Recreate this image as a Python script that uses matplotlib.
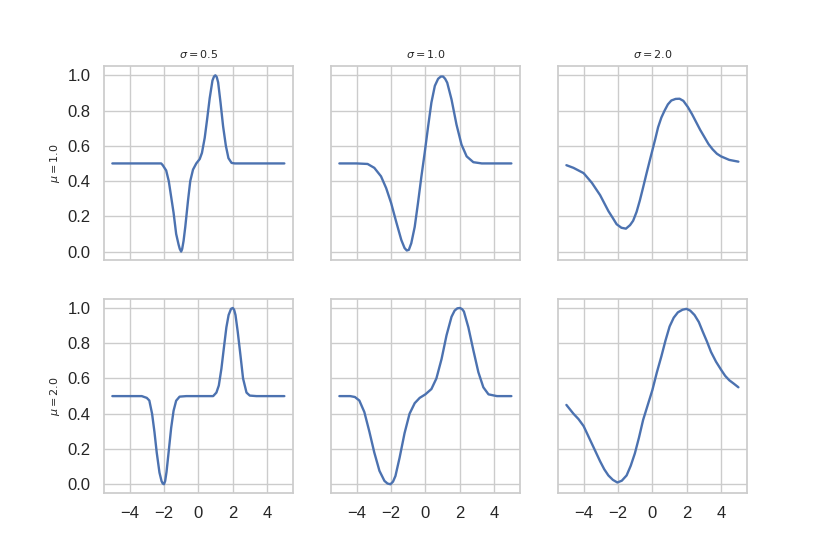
import matplotlib
matplotlib.use('Agg')
import matplotlib.pyplot as plt
import seaborn as sns

# values, one curve per (mu, sigma) panel
sigmas = [0.5, 1.0, 2.0]
mus = [1.0, 2.0]

x_m1_s05 = [-5.0, -3.0, -2.3, -2.16, -2.07, -1.87, -1.72, -1.58, -1.44, -1.29, -1.15, -1.08,
            -1.0, -0.94, -0.86, -0.76, -0.6, -0.47, -0.31, -0.12, 0.08, 0.21, 0.37, 0.51,
            0.66, 0.82, 0.91, 0.99, 1.07, 1.15, 1.29, 1.44, 1.6, 1.75, 1.93, 2.12, 3.0, 5.0]
y_m1_s05 = [0.5, 0.5, 0.5, 0.5, 0.49, 0.46, 0.40, 0.31, 0.22, 0.10, 0.04, 0.015,
            0.0, 0.015, 0.06, 0.14, 0.29, 0.40, 0.465, 0.5, 0.525, 0.56, 0.645, 0.75,
            0.87, 0.97, 0.993, 1.0, 0.99, 0.96, 0.845, 0.71, 0.6, 0.53, 0.503, 0.5, 0.5, 0.5]

x_m1_s10 = [-5.0, -4.0, -3.36, -2.97, -2.58, -2.28, -1.99, -1.7, -1.4, -1.21, -1.08, -0.96,
            -0.82, -0.62, -0.43, -0.23, -0.04, 0.16, 0.35, 0.55, 0.74, 0.9, 1.03, 1.15,
            1.27, 1.52, 1.81, 2.1, 2.4, 2.79, 3.28, 4.0, 5.0]
y_m1_s10 = [0.5, 0.5, 0.497, 0.475, 0.427, 0.36, 0.275, 0.17, 0.066, 0.02, 0.006, 0.01,
            0.047, 0.14, 0.275, 0.427, 0.56, 0.71, 0.845, 0.94, 0.98, 0.993, 0.993, 0.98,
            0.958, 0.863, 0.72, 0.607, 0.54, 0.507, 0.5, 0.5, 0.5]

x_m1_s20 = [-5.0, -4.59, -4.0, -3.52, -3.04, -2.56, -2.3, -2.08, -1.8, -1.54, -1.3, -1.12,
            -0.92, -0.73, -0.55, -0.35, -0.17, 0.0, 0.17, 0.33, 0.52, 0.71, 0.9, 1.1, 1.35,
            1.58, 1.8, 2.06, 2.3, 2.54, 2.78, 3.02, 3.26, 3.5, 3.75, 3.99, 4.47, 5.0]
y_m1_s20 = [0.49, 0.475, 0.445, 0.39, 0.32, 0.23, 0.19, 0.155, 0.135, 0.13, 0.15, 0.175,
            0.225, 0.29, 0.36, 0.44, 0.51, 0.575, 0.64, 0.705, 0.76, 0.80, 0.835, 0.857, 0.866,
            0.867, 0.855, 0.82, 0.78, 0.735, 0.69, 0.65, 0.61, 0.58, 0.555, 0.54, 0.52, 0.51]

x_m2_s05 = [-5.0, -3.29, -3.0, -2.85, -2.69, -2.55, -2.42, -2.26, -2.14, -2.07, -2.0, -1.93,
            -1.85, -1.73, -1.58, -1.44, -1.29, -1.09, -0.7, 0.86, 1.05, 1.19, 1.34, 1.48,
            1.63, 1.76, 1.9, 2.0, 2.08, 2.16, 2.29, 2.45, 2.6, 2.8, 2.99, 3.38, 5.0]
y_m2_s05 = [0.5, 0.5, 0.49, 0.475, 0.40, 0.295, 0.18, 0.066, 0.018, 0.004, 0.0, 0.018,
            0.07, 0.18, 0.32, 0.417, 0.474, 0.497, 0.5, 0.5, 0.52, 0.56, 0.655, 0.77,
            0.89, 0.96, 0.995, 1.0, 0.99, 0.96, 0.865, 0.73, 0.6, 0.52, 0.503, 0.5, 0.5]

x_m2_s10 = [-5.0, -4.37, -4.1, -3.84, -3.55, -3.26, -2.97, -2.67, -2.38, -2.2, -2.03, -1.88,
            -1.74, -1.5, -1.21, -0.92, -0.62, -0.33, 0.0, 0.35, 0.64, 0.94, 1.23, 1.52,
            1.7, 1.86, 2.01, 2.14, 2.24, 2.5, 2.79, 3.08, 3.37, 3.67, 4.16, 5.0]
y_m2_s10 = [0.5, 0.5, 0.495, 0.475, 0.41, 0.30, 0.18, 0.076, 0.019, 0.004, 0.0, 0.015,
            0.047, 0.15, 0.29, 0.40, 0.46, 0.49, 0.51, 0.54, 0.60, 0.71, 0.845, 0.95,
            0.985, 0.998, 1.0, 0.993, 0.98, 0.89, 0.76, 0.636, 0.55, 0.51, 0.5, 0.5]

x_m2_s20 = [-5.0, -4.59, -4.3, -4.0, -3.76, -3.52, -3.28, -3.04, -2.8, -2.56, -2.3, -2.04,
            -1.78, -1.5, -1.26, -1.02, -0.78, -0.54, -0.27, 0.0, 0.26, 0.52, 0.76, 1.0,
            1.24, 1.48, 1.75, 1.98, 2.2, 2.45, 2.7, 2.93, 3.17, 3.41, 3.7, 3.99, 4.23,
            4.47, 4.74, 5.0]
y_m2_s20 = [0.45, 0.40, 0.37, 0.33, 0.28, 0.23, 0.18, 0.13, 0.085, 0.05, 0.025, 0.01,
            0.02, 0.05, 0.105, 0.175, 0.265, 0.365, 0.45, 0.535, 0.635, 0.725, 0.815, 0.895,
            0.945, 0.975, 0.99, 0.995, 0.985, 0.96, 0.92, 0.865, 0.81, 0.75, 0.695, 0.65, 0.615,
            0.59, 0.57, 0.55]

curves = [[(x_m1_s05, y_m1_s05), (x_m1_s10, y_m1_s10), (x_m1_s20, y_m1_s20)],
          [(x_m2_s05, y_m2_s05), (x_m2_s10, y_m2_s10), (x_m2_s20, y_m2_s20)]]

sns.set_theme(style='whitegrid')
plt.rcParams['font.family'] = ['Liberation Sans', 'DejaVu Sans']

fig, axes = plt.subplots(2, 3, figsize=(8.3, 5.54), dpi=100, sharex=True, sharey=True)

for i, mu in enumerate(mus):
    for j, sigma in enumerate(sigmas):
        ax = axes[i, j]
        xs, ys = curves[i][j]
        ax.plot(xs, ys, color='#4c72b0', linewidth=1.7, solid_joinstyle='round')
        ax.tick_params(labelsize=12)
        if i == 0:
            ax.set_title(rf'$\sigma = {sigma}$', fontsize=8)
        if j == 0:
            ax.set_ylabel(rf'$\mu = {mu}$', fontsize=8)

axes[0, 0].set_xticks([-4, -2, 0, 2, 4])
axes[0, 0].set_yticks([0.0, 0.2, 0.4, 0.6, 0.8, 1.0])

plt.savefig('out.png', dpi=100)
